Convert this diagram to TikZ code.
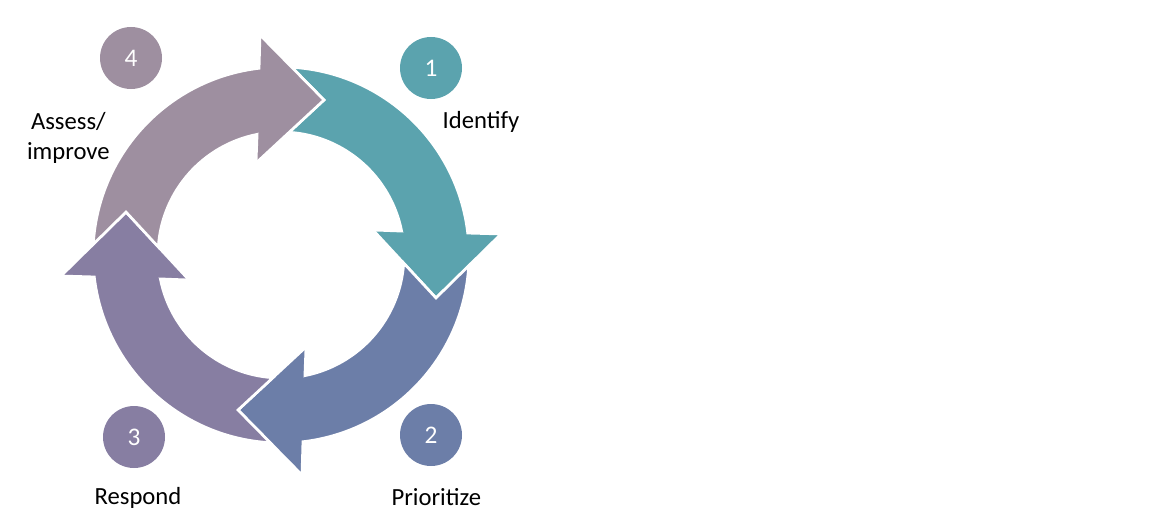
\documentclass[tikz,border=0pt]{standalone}
\usepackage{fontspec}
\setmainfont{Carlito}
\usepackage{tikz}
\usetikzlibrary{positioning}
\definecolor{identc}{HTML}{5BA3AE}
\definecolor{priorc}{HTML}{6C7EA8}
\definecolor{respc}{HTML}{877EA2}
\definecolor{assessc}{HTML}{9E8FA0}
\def \cyclearrow#1#2{%
\begin{scope}[shift={(281,264)},rotate=#1]
\filldraw[fill=#2,draw=white,line width=2pt]
(86.7:188) arc[start angle=86.7,end angle=6.7,radius=188] -- (220,21) -- (155,-43) -- (92,25)
-- (11.2:123) arc[start angle=11.2,end angle=86.2,radius=123] -- (43,155) -- cycle;
\end{scope}}

\begin{document}
\begin{tikzpicture}[x=0.75pt,y=0.75pt]
\tikzstyle{num}=[circle,minimum size=46.5pt,inner sep=0pt,text=white,font=\fontsize{19}{22}\selectfont];
\tikzstyle{lab}=[on grid,align=center,font=\fontsize{18.5}{23}\selectfont];
\useasboundingbox (0,0) rectangle (1170,519);
\cyclearrow{0}{identc}
\cyclearrow{-90}{priorc}
\cyclearrow{-180}{respc}
\cyclearrow{-270}{assessc}
\node (1) [num,fill=identc] at (431,451) {1};
\node (2) [num,fill=priorc] at (431,84) {2};
\node (3) [num,fill=respc] at (134,82) {3};
\node (4) [num,fill=assessc] at (131,461) {4};
\node (idf) [lab,below right=40.5pt and 37.5pt of 1] {Identify};
\node (pri) [lab,below right=46.5pt and 4pt of 2] {Prioritize};
\node (rsp) [lab,below right=46pt and 3pt of 3] {Respond};
\node (asi) [lab,below left=60pt and 47pt of 4] {Assess/\\improve};
\end{tikzpicture}
\end{document}
